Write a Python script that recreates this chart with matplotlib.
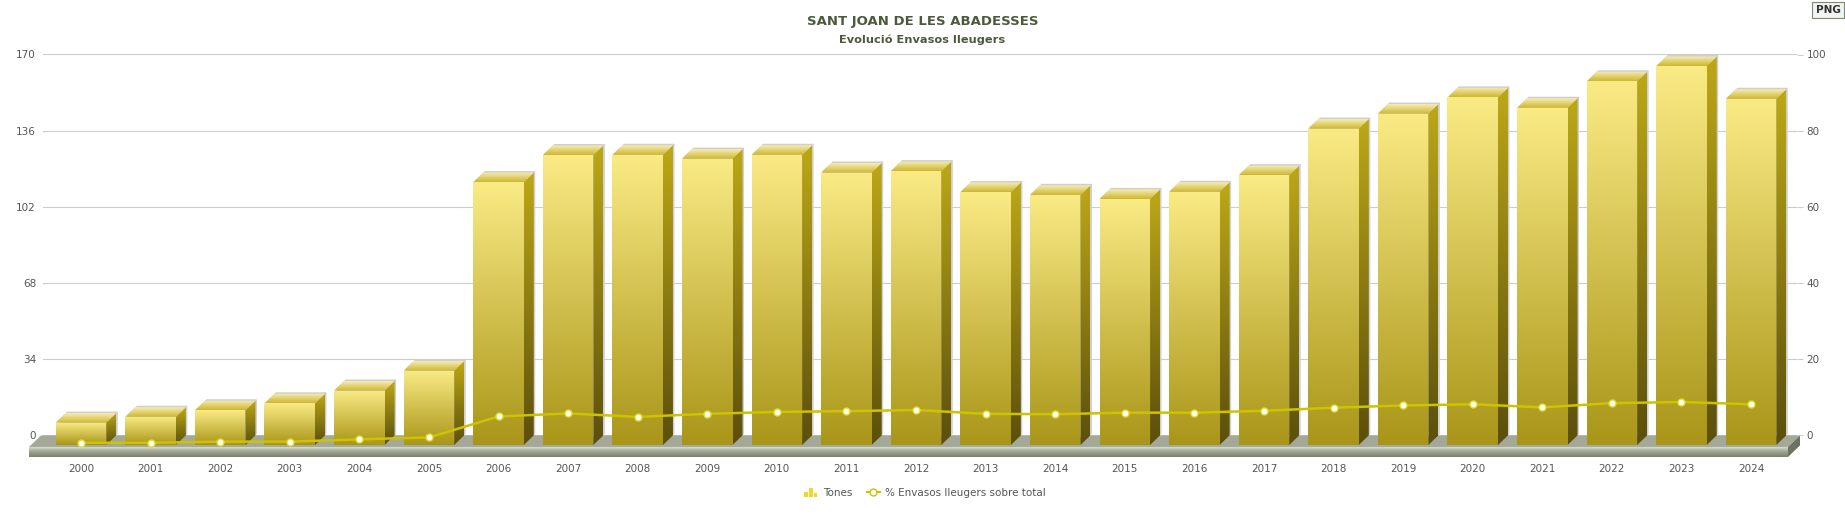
import numpy as np
import matplotlib
matplotlib.use('Agg')
import matplotlib.pyplot as plt
import matplotlib.transforms as mtransforms
from matplotlib.patches import Polygon, Rectangle
from matplotlib.lines import Line2D
from matplotlib.legend_handler import HandlerBase
from matplotlib.colors import to_rgb

# dades llegides del grafic
years = [str(y) for y in range(2000, 2025)]
tones = [10.0, 12.6, 15.5, 18.6, 24.3, 33.2, 117.3, 129.4, 129.5, 127.8,
         129.5, 121.6, 122.2, 112.9, 111.6, 109.8, 113.0, 120.4, 141.2, 147.9,
         155.1, 150.5, 162.3, 169.1, 154.5]
pct = [0.6, 0.6, 0.9, 0.9, 1.5, 2.0, 7.5, 8.3, 7.4, 8.2,
       8.7, 8.9, 9.2, 8.2, 8.1, 8.5, 8.5, 9.0, 9.8, 10.4,
       10.7, 9.9, 11.0, 11.3, 10.7]
left_ticks = [0, 34, 68, 102, 136, 170]
right_ticks = [0, 20, 40, 60, 80, 100]

title = 'SANT JOAN DE LES ABADESSES'
subtitle = 'Evolució Envasos lleugers'
label_bars = 'Tones'
label_line = '% Envasos lleugers sobre total'

W, H = 1845, 524
fig = plt.figure(figsize=(W / 100, H / 100), dpi=100)
ax = fig.add_axes([43 / W, (H - 460.1) / H, 1754 / W, 405.6 / H])

XMIN, XMAX = -0.546, 24.66
YMIN, YMAX = -11, 170
ux = (XMAX - XMIN) / 1754      # unitats per pixel
uy = (YMAX - YMIN) / 405.6
DX = 10 * ux
DY = 9.6 * uy
BW = 0.726

TXT = '#555555'


def grad_fill(ax, verts, c_top, c_bot, z):
    poly = Polygon(verts, closed=True, fc='none', ec='none')
    ax.add_patch(poly)
    xs = [v[0] for v in verts]
    ys = [v[1] for v in verts]
    t = np.linspace(0, 1, 64)[:, None]
    cols = np.array(to_rgb(c_top)) * (1 - t) + np.array(to_rgb(c_bot)) * t
    im = ax.imshow(cols[:, None, :], extent=(min(xs), max(xs), min(ys), max(ys)),
                   origin='upper', aspect='auto', interpolation='bilinear', zorder=z)
    im.set_clip_path(poly)


# terra 3D
fx0, fx1 = XMIN - 2 * ux, XMAX + 3 * ux
off = 12 * ux
f_front = -11.5 * uy
f_bot = -21.5 * uy
ax.add_patch(Polygon([(fx0, 0), (fx1, 0), (fx1 - off, f_front), (fx0 - off, f_front)],
                     closed=True, fc='#A3A897', ec='none', zorder=2, clip_on=False))
strip_cols = ['#D2D6CA', '#C4C9BB', '#B6BBAC', '#AAB09F', '#A0A695',
              '#989E8C', '#909784', '#89907C', '#828975', '#7B826E']
n = len(strip_cols)
for k, c in enumerate(strip_cols):
    y0 = f_front + (f_bot - f_front) * k / n
    y1 = f_front + (f_bot - f_front) * (k + 1) / n
    ax.add_patch(Rectangle((fx0 - off, y1), fx1 - fx0, y0 - y1, fc=c, ec='none',
                           zorder=2, clip_on=False))
ax.add_patch(Polygon([(fx1 - off, f_front), (fx1, 0), (fx1, f_bot - f_front), (fx1 - off, f_bot)],
                     closed=True, fc='#6C735E', ec='none', zorder=2, clip_on=False))

# columnes 3D
x = np.arange(len(years))
for i, v in enumerate(tones):
    l, r = i - BW / 2, i + BW / 2
    top = v - DY
    # ombra
    sx, sy = 1.5 * ux, 1.5 * uy
    ax.add_patch(Polygon([(l + sx, top + sy), (l + DX + sx, v + sy), (r + DX + sx, v + sy),
                          (r + DX + sx, 0 + sy), (r + sx, -DY + sy)],
                         closed=True, fc='#CFCFCF', ec='none', zorder=3))
    grad_fill(ax, [(l, -DY), (r, -DY), (r, top), (l, top)], '#FAEA84', '#A99619', 4)
    grad_fill(ax, [(r, -DY), (r + DX, 0), (r + DX, v), (r, top)], '#BCA816', '#5B4F0C', 4)
    grad_fill(ax, [(l, top), (r, top), (r + DX, v), (l + DX, v)], '#F7EDB4', '#CDB72E', 4)

ax.set_xlim(XMIN, XMAX)
ax.set_ylim(YMIN, YMAX)
ax.set_yticks(left_ticks)
ax.yaxis.grid(True, color='#CCCCCC', lw=0.8)
ax.set_axisbelow(True)
ax.set_xticks(x, years)
ax.tick_params(axis='x', length=0, pad=3, labelsize=7.5, colors=TXT)
ax.tick_params(axis='y', length=0, pad=5, labelsize=7.5, colors=TXT)
for s in ax.spines.values():
    s.set_visible(False)

# linia del percentatge (eix dret, pla frontal)
ax2 = ax.twinx()
ax2.set_ylim(YMIN / 1.7, YMAX / 1.7)
ax2.set_yticks(right_ticks)
ax2.tick_params(axis='y', length=4, width=0.8, pad=3, labelsize=7.5, colors=TXT)
ax2.tick_params(axis='y', color='#CCCCCC')
for s in ax2.spines.values():
    s.set_visible(False)
shift = mtransforms.ScaledTranslation(0, -9.6 / 100, fig.dpi_scale_trans)
ax2.plot(x, pct, color='#CDC300', lw=1.8, marker='o', ms=5, mfc='white',
         mec='#E4DC30', mew=1.0, transform=ax2.transData + shift, zorder=5)
ax2.set_xlim(XMIN, XMAX)

fig.text(0.5, 1 - 22 / H, title, ha='center', va='center', fontsize=9.5,
         fontweight='bold', color='#4B5A3B')
fig.text(0.5, 1 - 40 / H, subtitle, ha='center', va='center', fontsize=8.2,
         fontweight='bold', color='#4B5A3B')
fig.text(1828 / W, 1 - 10 / H, 'PNG', ha='center', va='center', fontsize=7.5,
         fontweight='bold', color='#333333',
         bbox=dict(boxstyle='square,pad=0.3', fc='#F2F2F2', ec='#7E8A70', lw=0.8))


class BarIcon(HandlerBase):
    def create_artists(self, legend, orig_handle, xdescent, ydescent, width, height, fontsize, trans):
        arts = []
        w = width / 3.6
        for k, h in enumerate([0.8, 1.25, 0.6]):
            arts.append(Rectangle((-xdescent + k * w * 1.3, -ydescent - 1), w, height * h,
                                  fc='#F2D630', ec='none', transform=trans))
        return arts


h_bar = Rectangle((0, 0), 1, 1)
h_line = Line2D([], [], color='#CDC300', lw=1.5, marker='o', ms=5, mfc='white', mec='#CDC300')
fig.legend([h_bar, h_line], [label_bars, label_line], handler_map={Rectangle: BarIcon()},
           loc='center', bbox_to_anchor=(925 / W, 1 - 493 / H), ncol=2, frameon=False,
           fontsize=7.5, labelcolor=TXT, handlelength=1.3, handletextpad=0.5,
           columnspacing=1.4)

fig.savefig('out.png', dpi=100)
